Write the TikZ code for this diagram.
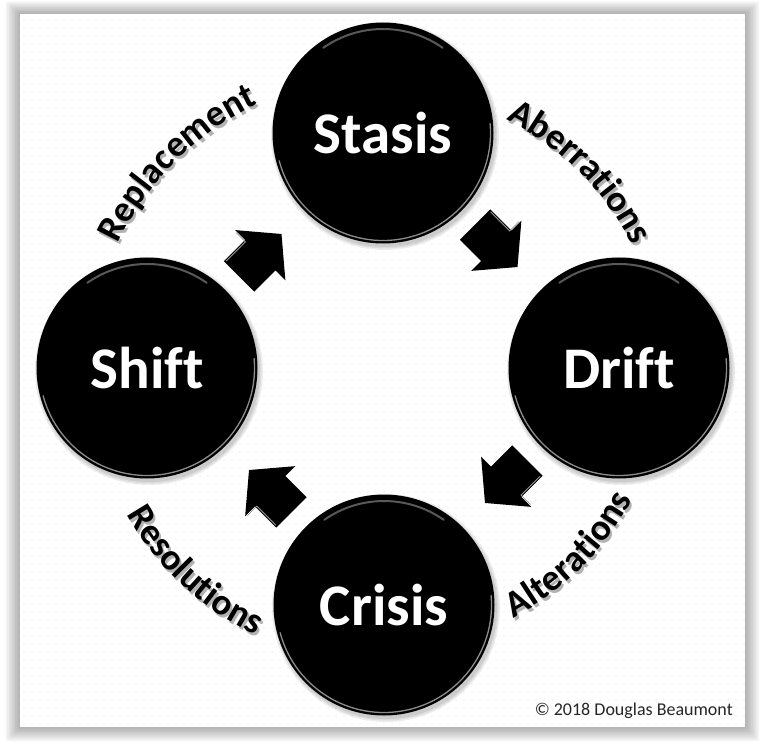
\documentclass[tikz,border=0pt]{standalone}
\usepackage{fontspec}
\setmainfont[Ligatures=NoCommon]{Carlito}
\usetikzlibrary{decorations.text,patterns.meta,calc}
\newcommand\lblfont{\bfseries\fontsize{37}{37}\selectfont}
\begin{document}
\begin{tikzpicture}[x=1pt,y=1pt,
  disc/.style={circle, fill=black, minimum size=221pt, inner sep=0pt, text=white,
    font=\bfseries\fontsize{59}{59}\selectfont},
  rim/.style={black!45, line width=1.3pt, line cap=round},
  toprim/.style={black!30, line width=2pt, line cap=round, opacity=0.5},
  arctext/.style={decorate, decoration={text along path, text align=center, text={|\lblfont|#1}}},
  arcshadow/.style={decorate, decoration={text along path, text align=center, text color=black!30, text={|\lblfont|#1}}},
  blockarrow/.pic={
    \fill[black] (-30,-21.5) -- (0,-21.5) -- (0,-35.5) -- (30,0) -- (0,35.5) -- (0,21.5) -- (-30,21.5) -- cycle;
    \draw[black!40, line width=0.8pt, line cap=round] (-28,20) -- (-1,20) -- (-1,33);
  }
]
\useasboundingbox (0,0) rectangle (765,748);
\fill[white] (0,0) rectangle (765,748);
% frame shadow
\foreach \i in {1,...,9}
  \fill[black, opacity=0.035, rounded corners=2pt] (20-\i*1.6, 21-\i*1.6) rectangle (745+\i*1.6, 734+\i*1.4);
\fill[white] (20,21) rectangle (745,734);
\fill[pattern={Dots[distance=8pt,radius=0.55pt]}, pattern color=black!13] (20,21) rectangle (745,734);

\coordinate (C) at (383,379);

% disc shadows
\foreach \px/\py in {383/615,619/380,384/143,147/380}
  \foreach \r in {111,112.5,114}
    \fill[black, opacity=0.07] (\px+2,\py-3) circle (\r);

\node[disc] (stasis) at (383,615) {Stasis};
\node[disc] (drift)  at (619,380) {Drift};
\node[disc] (crisis) at (384,143) {Crisis};
\node[disc] (shift)  at (147,380) {Shift};

\foreach \n in {stasis,drift,crisis,shift}{
  \draw[rim] ([shift={(195:107.5)}]\n.center) arc[start angle=195, end angle=365, radius=107.5];
  \draw[toprim] ([shift={(55:104)}]\n.center) arc[start angle=55, end angle=125, radius=104];
}

% block arrows
\pic[rotate=45]   at ($(shift)!0.48!(stasis)$)  {blockarrow};
\pic[rotate=-45]  at ($(stasis)!0.48!(drift)$)  {blockarrow};
\pic[rotate=-135] at ($(drift)!0.48!(crisis)$)  {blockarrow};
\pic[rotate=135]  at ($(crisis)!0.48!(shift)$)  {blockarrow};

% curved labels (shadow first)
\path[arcshadow=Replacement] ($(C)+(2,-3)+(175:293)$) arc[start angle=175, end angle=95, radius=293];
\path[arctext=Replacement]   ($(C)+(175:293)$) arc[start angle=175, end angle=95, radius=293];
\path[arcshadow=Aberrations] ($(C)+(2,-3)+(85:278)$) arc[start angle=85, end angle=5, radius=278];
\path[arctext=Aberrations]   ($(C)+(85:278)$) arc[start angle=85, end angle=5, radius=278];
\path[arcshadow=Alterations] ($(C)+(2,-3)+(-85:281)$) arc[start angle=-85, end angle=-5, radius=281];
\path[arctext=Alterations]   ($(C)+(-85:281)$) arc[start angle=-85, end angle=-5, radius=281];
\path[arcshadow=Resolutions] ($(C)+(2,-3)+(-173:295)$) arc[start angle=-173, end angle=-93, radius=295];
\path[arctext=Resolutions]   ($(C)+(-173:295)$) arc[start angle=-173, end angle=-93, radius=295];

\node[anchor=base east, inner sep=0pt, font=\fontsize{18}{18}\selectfont, text=black!85] (copy) at (733,33) {© 2018 Douglas Beaumont};
\end{tikzpicture}
\end{document}
